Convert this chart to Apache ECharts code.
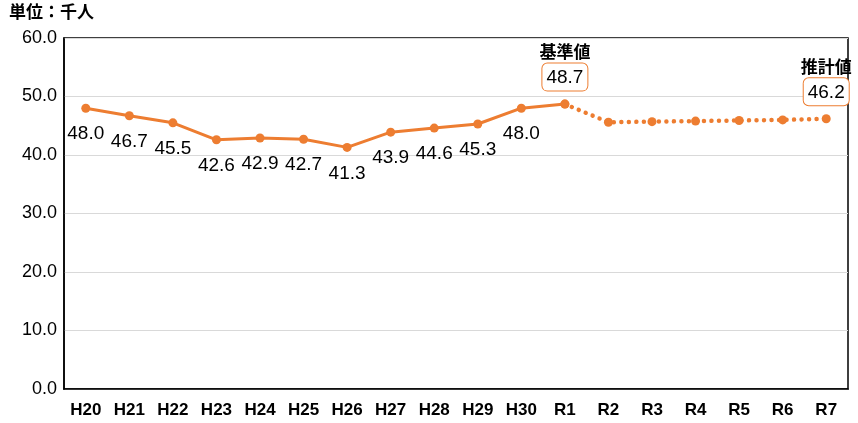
<!DOCTYPE html>
<html lang="ja">
<head>
<meta charset="UTF-8" />
<script src="https://cdn.jsdelivr.net/npm/echarts@6/dist/echarts.min.js"></script>
<style>
  html, body { margin: 0; padding: 0; background: #fff; }
</style>
</head>
<body>
<div id="main" style="width: 858px; height: 423px;"></div>
<script type="text/javascript">
const years = ['H20', 'H21', 'H22', 'H23', 'H24', 'H25', 'H26', 'H27', 'H28', 'H29', 'H30', 'R1', 'R2', 'R3', 'R4', 'R5', 'R6', 'R7'];
const actual = [48.0, 46.7, 45.5, 42.6, 42.9, 42.7, 41.3, 43.9, 44.6, 45.3, 48.0, 48.7];
const estimate = [48.7, 45.6, 45.7, 45.8, 45.9, 46.0, 46.2];
const yTicks = [0, 10, 20, 30, 40, 50, 60];

const orange = '#ED7D31';
const jp = '"Noto Sans CJK JP", sans-serif';
const num = '"Liberation Sans", Arial, sans-serif';
const boxLabel = (title) => ({
  show: true,
  position: 'top',
  distance: 9,
  formatter: p => `{t|${title}}\n{b|${p.value.toFixed(1)}}`,
  rich: {
    t: { fontFamily: jp, fontWeight: 'bold', fontSize: 17, color: '#000', lineHeight: 24, align: 'center' },
    b: {
      fontFamily: num, fontSize: 19, color: '#000', align: 'center',
      borderColor: orange, borderWidth: 1, borderRadius: 5,
      padding: [5, 4, 3, 4], backgroundColor: '#fff'
    }
  }
});

const solidData = years.map((y, i) => {
  if (i >= actual.length) return null;
  if (i === actual.length - 1) return { value: actual[i], label: { show: false } };
  return actual[i];
});
const dottedData = years.map((y, i) => {
  const k = i - (actual.length - 1);
  if (k < 0) return null;
  if (k === 0) return { value: estimate[k], label: boxLabel('基準値') };
  if (k === estimate.length - 1) return { value: estimate[k], label: boxLabel('推計値') };
  return estimate[k];
});

const chart = echarts.init(document.getElementById('main'));
chart.setOption({
  animation: false,
  graphic: [{
    type: 'text', left: 9, top: 3,
    style: { text: '単位：千人', font: 'bold 17px "Noto Sans CJK JP"', fill: '#000' }
  }],
  grid: {
    left: 64, right: 10, top: 38, bottom: 34,
    show: true, borderColor: '#000', borderWidth: 1.5, containLabel: false
  },
  xAxis: {
    type: 'category',
    data: years,
    boundaryGap: true,
    axisLine: { lineStyle: { color: '#000', width: 1.5 } },
    axisTick: { show: false },
    axisLabel: { color: '#000', fontFamily: num, fontSize: 17, fontWeight: 'bold', margin: 13, interval: 0 }
  },
  yAxis: {
    type: 'value',
    min: yTicks[0], max: yTicks[yTicks.length - 1], interval: 10,
    axisLine: { show: true, lineStyle: { color: '#000', width: 1.5 } },
    axisTick: { show: false },
    splitLine: { lineStyle: { color: '#d9d9d9', width: 1 } },
    axisLabel: { color: '#000', fontFamily: num, fontSize: 18, margin: 7, formatter: v => v.toFixed(1) }
  },
  series: [
    {
      type: 'line',
      data: solidData,
      symbol: 'circle', symbolSize: 9,
      itemStyle: { color: orange },
      lineStyle: { color: orange, width: 3 },
      label: {
        show: true, position: 'bottom', distance: 12,
        color: '#000', fontFamily: num, fontSize: 19, formatter: p => p.value.toFixed(1)
      },
      z: 3
    },
    {
      type: 'line',
      data: dottedData,
      symbol: 'circle', symbolSize: 9,
      itemStyle: { color: orange },
      lineStyle: { color: orange, width: 4.5, type: [0.01, 7.5], cap: 'round' },
      label: { show: false },
      z: 2
    }
  ]
});
</script>
</body>
</html>
